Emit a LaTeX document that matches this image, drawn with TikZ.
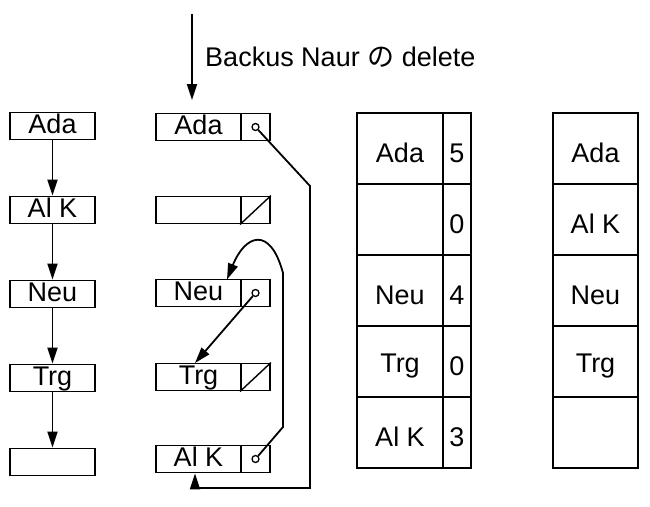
\documentclass[tikz,border=0pt]{standalone}
\usepackage{fontspec}
\setmainfont{Liberation Sans}
\newfontfamily\cjk{Noto Sans CJK JP}
\usetikzlibrary{arrows.meta}
\begin{document}
\begin{tikzpicture}[x=1pt,y=-1pt,line width=1.8pt,
  every node/.style={font=\fontsize{27}{30}\selectfont},
  arr/.style={-{Triangle[length=16pt,width=10pt]}},
  bx/.style={draw,minimum height=27pt,inner sep=0pt,text height=18pt,text depth=4pt}]
\useasboundingbox (0,0) rectangle (650,506);
% top arrow
\coordinate (t0) at (192,14);
\coordinate (t1) at (192,100);
\draw[arr] (t0) -- (t1);
\node[anchor=west] (lbl) at (201,57) {Backus Naur {\cjk の} delete};
% left column
\foreach \n/\y/\t in {a/126/Ada,b/210/Al K,c/294/Neu,d/378/Trg,e/462/} {
  \node[bx,minimum width=85pt] (L\n) at (52.5,\y) {\t};
}
\draw[arr] (La) -- (Lb);
\draw[arr] (Lb) -- (Lc);
\draw[arr] (Lc) -- (Ld);
\draw[arr] (Ld) -- (Le);
% middle column
\foreach \n/\y/\t in {a/127/Ada,b/210/,c/293/Neu,d/377/Trg,e/459/Al K} {
  \node[bx,minimum width=85pt] (M\n) at (198.5,\y) {\t};
  \node[bx,minimum width=29pt] (P\n) at (255.5,\y) {};
}
\draw[line width=1.4pt] (Pb.south west) -- (Pb.north east);
\draw[line width=1.4pt] (Pd.south west) -- (Pd.north east);
\foreach \n in {a,c,e} \node[draw,circle,inner sep=0pt,minimum size=7pt,line width=1.3pt] (C\n) at (Pa.center |- P\n.center) {};
\coordinate (r1) at (310,186);
\coordinate (r2) at (310,488);
\coordinate (r3) at (195,488);
\draw[arr] (Ca) -- (r1) -- (r2) -- (r3) -- (Me.south -| r3);
\coordinate (k1) at (283,427);
\coordinate (k2) at (283,273);
\coordinate (nt) at (227,279.5);
\draw[arr] (Ce) -- (k1) -- (k2) .. controls (270,225) and (245,235) .. (nt);
\coordinate (tt) at (195,363);
\draw[arr] (Cc) -- (tt);
% table 3
\foreach \i/\t/\v in {0/Ada/5,1//0,2/Neu/4,3/Trg/0,4/Al K/3} {
  \draw (357,113+71*\i) rectangle (443,184+71*\i) (443,113+71*\i) rectangle (471,184+71*\i);
  \node (T\i) at (400,153+71*\i) {\t};
  \node (V\i) at (457,153+71*\i) {\v};
}
% table 4
\foreach \i/\t in {0/Ada,1/Al K,2/Neu,3/Trg,4/} {
  \draw (553,113+71*\i) rectangle (638,184+71*\i);
  \node (S\i) at (595.5,153+71*\i) {\t};
}
\end{tikzpicture}
\end{document}
